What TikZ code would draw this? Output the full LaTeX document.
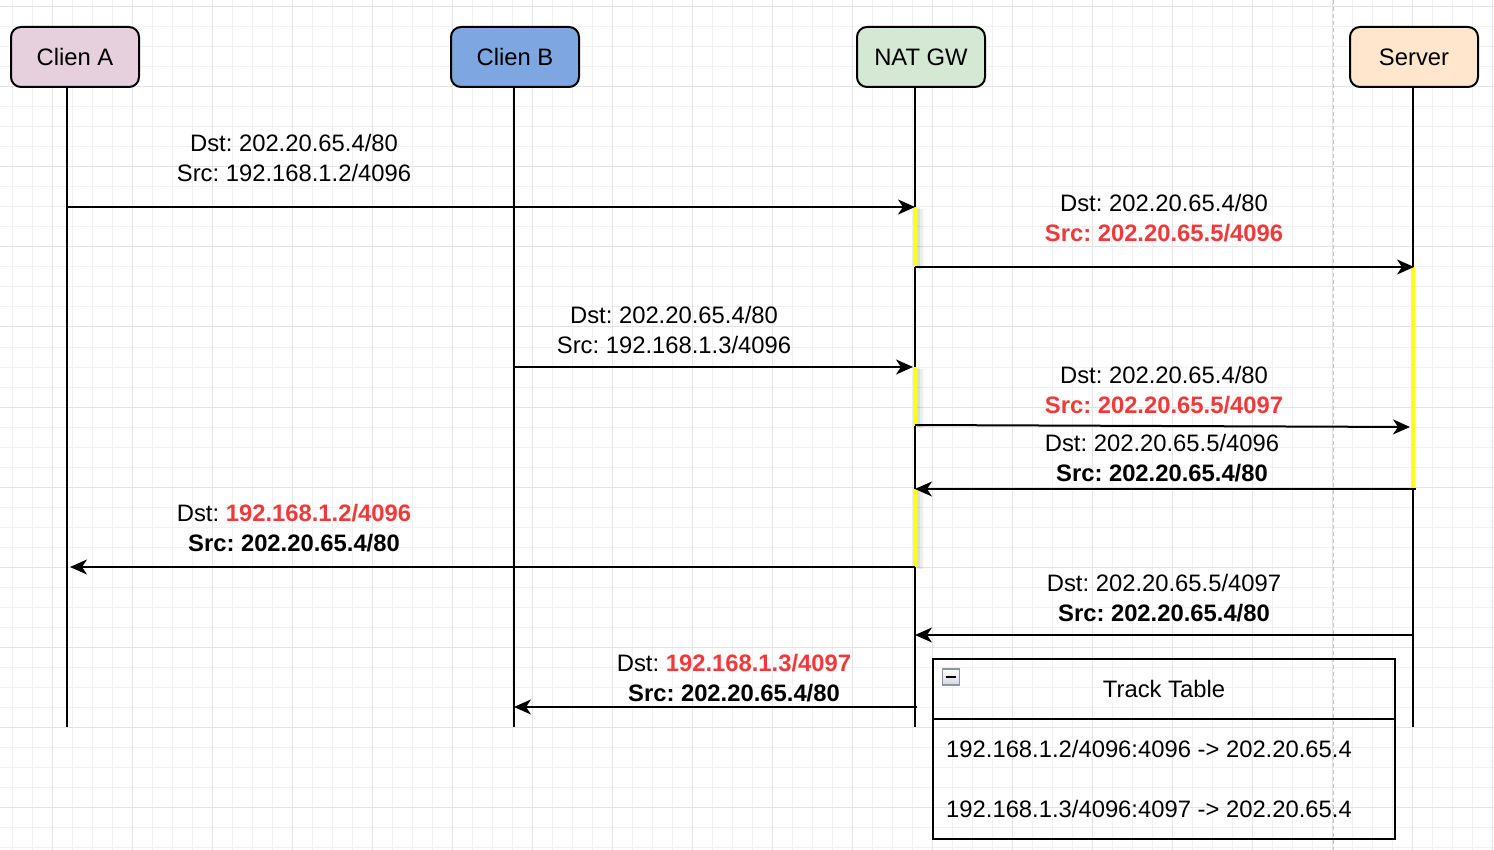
\documentclass[tikz,border=0pt]{standalone}
\usepackage{fontspec}
\setmainfont{Liberation Sans}
\usetikzlibrary{arrows.meta}
\definecolor{gridminor}{HTML}{F1F1F1}
\definecolor{gridmajor}{HTML}{E3E3E3}
\definecolor{pagebreak}{HTML}{C4C4C4}
\definecolor{fillA}{HTML}{E6D0DE}
\definecolor{fillB}{HTML}{7EA6E0}
\definecolor{fillN}{HTML}{D5E8D4}
\definecolor{fillS}{HTML}{FFE6CC}
\definecolor{hot}{HTML}{F03A3A}
\definecolor{act}{HTML}{FFFF1A}
\definecolor{iconborder}{HTML}{8C93A4}
\definecolor{iconfill}{HTML}{D3D7DF}
\tikzset{
  actor/.style={draw=black, line width=2pt, rounded corners=10pt, minimum width=128pt, minimum height=60pt, inner sep=0pt},
  life/.style={draw=black, line width=2pt},
  msg/.style={draw=black, line width=2pt, -{Stealth[length=17pt,width=15pt,inset=5pt]}},
  lbl/.style={anchor=base, inner sep=0pt},
  actbar/.style={fill=act, draw=none},
  actshadow/.style={fill=black, fill opacity=0.07, draw=none},
}
\newcommand{\hotb}[1]{\textcolor{hot}{\bfseries #1}}
\frenchspacing
\begin{document}
\begin{tikzpicture}[x=1pt,y=-1pt,font=\fontsize{23.8}{28}\selectfont\frenchspacing]
\useasboundingbox (0,0) rectangle (1494,850);
\fill[white] (0,0) rectangle (1494,850);
% grid
\foreach \gx in {12,32,...,1492} \draw[gridminor, line width=1pt] (\gx,0) -- (\gx,850);
\foreach \gy in {7,27,...,847} \draw[gridminor, line width=1pt] (0,\gy) -- (1494,\gy);
\foreach \gx in {52,132,...,1492} \draw[gridmajor, line width=1pt] (\gx,0) -- (\gx,850);
\foreach \gy in {7,87,...,807} \draw[gridmajor, line width=1pt] (0,\gy) -- (1494,\gy);
\draw[pagebreak, line width=1pt, dash pattern=on 4pt off 3pt] (1333,0) -- (1333,850);

% actors
\node[actor, fill=fillA] (ca) at (75,57) {Clien A};
\node[actor, fill=fillB] (cb) at (515,57) {Clien B};
\node[actor, fill=fillN] (nat) at (921,57) {NAT GW};
\node[actor, fill=fillS] (srv) at (1414,57) {Server};

% lifeline coordinates
\coordinate (aT) at (67,87);   \coordinate (aB) at (67,727);
\coordinate (bT) at (514,87);  \coordinate (bB) at (514,727);
\coordinate (nT) at (915,87);  \coordinate (nB) at (915,727);
\coordinate (sT) at (1413,87); \coordinate (sB) at (1413,727);
\draw[life] (aT) -- (aB);
\draw[life] (bT) -- (bB);
\draw[life] (nT) -- (nB);
\draw[life, line width=1.6pt] (sT) -- (sB);

% activation bars
\foreach \ya/\yb in {207/267, 367/426, 489/567} {
  \fill[actshadow] (917,\ya+2) rectangle (923,\yb+2);
  \fill[actshadow] (917,\ya+1) rectangle (920,\yb+1);
  \fill[actbar] (913,\ya) rectangle (917,\yb);
}
\fill[actbar] (1411,267) rectangle (1415,489);

% message endpoints
\coordinate (m1s) at (67,207);   \coordinate (m1e) at (915,207);
\coordinate (m2s) at (915,267);  \coordinate (m2e) at (1414,267);
\coordinate (m3s) at (514,367);  \coordinate (m3e) at (913,367);
\coordinate (m4s) at (915,425);  \coordinate (m4e) at (1410,427);
\coordinate (m5s) at (1416,489); \coordinate (m5e) at (915,489);
\coordinate (m6s) at (915,567);  \coordinate (m6e) at (70,567);
\coordinate (m7s) at (1413,635); \coordinate (m7e) at (915,635);
\coordinate (m8s) at (917,707);  \coordinate (m8e) at (514,707);
\draw[msg] (m1s) -- (m1e);
\draw[msg] (m2s) -- (m2e);
\draw[msg] (m3s) -- (m3e);
\draw[msg] (m4s) -- (m4e);
\draw[msg] (m5s) -- (m5e);
\draw[msg] (m6s) -- (m6e);
\draw[msg] (m7s) -- (m7e);
\draw[msg] (m8s) -- (m8e);

% labels
\node[lbl] (l1a) at (294,151.5) {Dst: 202.20.65.4/80};
\node[lbl] (l1b) at (294,181.5) {Src: 192.168.1.2/4096};
\node[lbl] (l2a) at (1164,211.5) {Dst: 202.20.65.4/80};
\node[lbl] (l2b) at (1164,241.5) {\hotb{Src: 202.20.65.5/4096}};
\node[lbl] (l3a) at (674,323.5) {Dst: 202.20.65.4/80};
\node[lbl] (l3b) at (674,353.5) {Src: 192.168.1.3/4096};
\node[lbl] (l4a) at (1164,383.5) {Dst: 202.20.65.4/80};
\node[lbl] (l4b) at (1164,413.5) {\hotb{Src: 202.20.65.5/4097}};
\node[lbl] (l5a) at (1162,451.5) {Dst: 202.20.65.5/4096};
\node[lbl] (l5b) at (1162,481.5) {\bfseries Src: 202.20.65.4/80};
\node[lbl] (l6a) at (294,521.5) {Dst: \hotb{192.168.1.2/4096}};
\node[lbl] (l6b) at (294,551.5) {\bfseries Src: 202.20.65.4/80};
\node[lbl] (l7a) at (1164,591.5) {Dst: 202.20.65.5/4097};
\node[lbl] (l7b) at (1164,621.5) {\bfseries Src: 202.20.65.4/80};
\node[lbl] (l8a) at (734,671.5) {Dst: \hotb{192.168.1.3/4097}};
\node[lbl] (l8b) at (734,701.5) {\bfseries Src: 202.20.65.4/80};

% track table
\draw[line width=2pt] (933,659) rectangle (1395,839);
\draw[line width=2pt] (933,719) -- (1395,719);
\node[lbl] (tt) at (1164,697.5) {Track Table};
\node[draw=iconborder, line width=1.5pt, top color=white, bottom color=iconfill, minimum width=17pt, minimum height=16pt, inner sep=0pt] (icon) at (951,677) {};
\draw[black, line width=2pt] ([xshift=-5pt]icon.center) -- ([xshift=5pt]icon.center);
\node[lbl, anchor=base west] (r1) at (946,757.5) {192.168.1.2/4096:4096 -> 202.20.65.4};
\node[lbl, anchor=base west] (r2) at (946,817.5) {192.168.1.3/4096:4097 -> 202.20.65.4};
\end{tikzpicture}
\end{document}
